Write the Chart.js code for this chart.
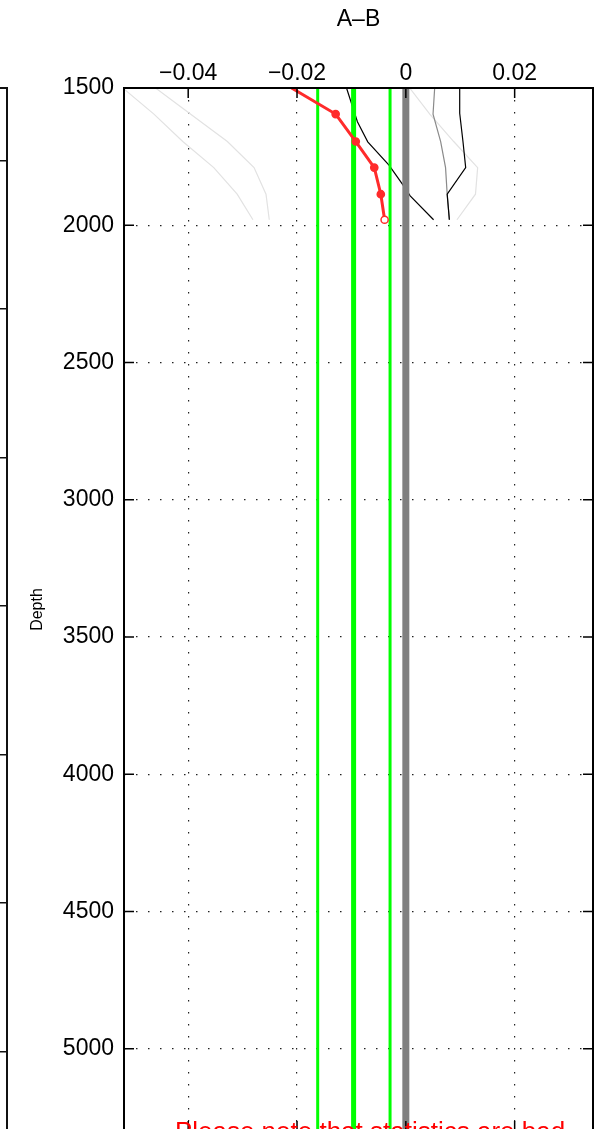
<!DOCTYPE html>
<html>
<head>
<meta charset="utf-8">
<script src="https://cdn.jsdelivr.net/npm/chart.js@4.4.1/dist/chart.umd.min.js"></script>
<style>
  html, body { margin: 0; padding: 0; background: #fff; overflow: hidden; }
  #wrap { position: relative; width: 616px; height: 1129px; overflow: hidden; }
  canvas { position: absolute; top: 0; left: 0; }
</style>
</head>
<body>
<div id="wrap">
  <canvas id="main" width="616" height="1200"></canvas>
  <canvas id="side" width="10" height="1200"></canvas>
</div>
<script>
// ===== A-B difference profile =====

// Axis setup
const depthMin = 1500;
const depthMax = 5300;
const depthTicks = [1500, 2000, 2500, 3000, 3500, 4000, 4500, 5000];
const abMin = -0.0518;
const abMax = 0.0344;
const abTicks = [-0.04, -0.02, 0, 0.02];

// Profile depths
const depthRed = [1500, 1595, 1695, 1790, 1887, 1980];
const abRed = [-0.0210, -0.0129, -0.0092, -0.0058, -0.0046, -0.0039];

const depthBlackL = [1500, 1623, 1696, 1781, 1851, 1893, 1980];
const abBlackL = [-0.0109, -0.0089, -0.0070, -0.0031, -0.0006, 0.0008, 0.0051];

const depthBlackR = [1500, 1592, 1695, 1790, 1887, 1980];
const abBlackR = [0.0099, 0.0099, 0.0105, 0.0110, 0.0076, 0.0080];

const depthGray = [1500, 1595, 1695, 1790, 1887, 1980];
const abGray = [0.0053, 0.0050, 0.0064, 0.0073, 0.0076, 0.0080];

const depthLight = [1500, 1595, 1695, 1790, 1887, 1980];
const abLightA = [-0.0460, -0.0396, -0.0328, -0.0279, -0.0257, -0.0251];
const abLightB = [-0.0520, -0.0463, -0.0410, -0.0353, -0.0310, -0.0281];
const abLightC = [0.0007, 0.0044, 0.0088, 0.0132, 0.0128, 0.0094];

// Mean and spread (vertical lines)
const abMean = -0.0096;
const abSpread = [-0.0162, -0.0029];
const abZero = 0;

// Neighbouring panel (only its edge is visible)
const sideMin = 1755;
const sideMax = 5500;
const sideTicks = [2000, 2500, 3000, 3500, 4000, 4500, 5000];

const noteText = 'Please note that statistics are bad';

Chart.defaults.font.family = '"Liberation Sans", Arial, Helvetica, sans-serif';
Chart.defaults.color = '#000';

function pts(xs, ys) {
  return xs.map((v, i) => ({ x: v, y: ys[i] }));
}
function vline(v) {
  return [{ x: v, y: depthMin }, { x: v, y: depthMax }];
}
function fmt(v) {
  if (v === 0) return '0';
  return (v < 0 ? '\u2212' : '') + Math.abs(v).toFixed(2);
}

const thin = (data, color, order) => ({
  data: data, borderColor: color, borderWidth: 1.2,
  pointRadius: 0, showLine: true, order: order
});

// box + inward ticks, MATLAB style
const frame = {
  id: 'frame',
  afterDatasetsDraw(chart) {
    const { ctx, chartArea: a, scales: { x, y } } = chart;
    ctx.save();
    ctx.strokeStyle = '#000';
    ctx.lineWidth = 1.5;
    ctx.beginPath();
    x.ticks.forEach(t => {
      const px = x.getPixelForValue(t.value);
      ctx.moveTo(px, a.top); ctx.lineTo(px, a.top + 10);
      ctx.moveTo(px, a.bottom); ctx.lineTo(px, a.bottom - 10);
    });
    y.ticks.forEach(t => {
      const py = y.getPixelForValue(t.value);
      ctx.moveTo(a.left, py); ctx.lineTo(a.left + 10, py);
      ctx.moveTo(a.right, py); ctx.lineTo(a.right - 10, py);
    });
    ctx.stroke();
    ctx.lineWidth = 2;
    ctx.strokeRect(a.left, a.top, a.right - a.left, a.bottom - a.top);
    ctx.restore();
  },
  afterDraw(chart) {
    const ctx = chart.ctx;
    ctx.save();
    ctx.fillStyle = '#ff0000';
    ctx.font = '26px "Liberation Sans", Arial, sans-serif';
    ctx.textAlign = 'center';
    ctx.textBaseline = 'alphabetic';
    ctx.fillText(noteText, 370, 1140);
    ctx.restore();
  }
};

new Chart(document.getElementById('main'), {
  type: 'scatter',
  data: {
    datasets: [
      {
        data: pts(abRed, depthRed),
        borderColor: '#ff2b2b', borderWidth: 3, showLine: true,
        pointRadius: depthRed.map((d, i) => i === 0 ? 0 : 3.6),
        pointBackgroundColor: depthRed.map((d, i) => i === depthRed.length - 1 ? '#fff' : '#ff2b2b'),
        pointBorderColor: '#ff2b2b', pointBorderWidth: 1.5,
        order: 0
      },
      { data: vline(abZero), borderColor: '#808080', borderWidth: 7, pointRadius: 0, showLine: true, order: 1 },
      { data: vline(abMean), borderColor: '#00ff00', borderWidth: 5, pointRadius: 0, showLine: true, order: 2 },
      { data: vline(abSpread[0]), borderColor: '#00ff00', borderWidth: 3, pointRadius: 0, showLine: true, order: 2 },
      { data: vline(abSpread[1]), borderColor: '#00ff00', borderWidth: 3, pointRadius: 0, showLine: true, order: 2 },
      thin(pts(abBlackL, depthBlackL), '#000', 3),
      thin(pts(abBlackR, depthBlackR), '#000', 3),
      thin(pts(abGray, depthGray), '#8a8a8a', 4),
      thin(pts(abLightA, depthLight), '#e2e2e2', 5),
      thin(pts(abLightB, depthLight), '#e2e2e2', 5),
      thin(pts(abLightC, depthLight), '#e2e2e2', 5)
    ]
  },
  options: {
    responsive: false,
    animation: false,
    layout: { padding: { left: 0, right: 23, top: 0, bottom: 69 } },
    plugins: { legend: { display: false }, tooltip: { enabled: false } },
    scales: {
      x: {
        type: 'linear', position: 'top', min: abMin, max: abMax,
        afterBuildTicks: s => { s.ticks = abTicks.map(v => ({ value: v })); },
        afterFit: s => { s.height = 88; },
        ticks: { callback: v => fmt(v), font: { size: 23 }, padding: 1, maxRotation: 0 },
        grid: { color: '#222', lineWidth: 1.2, drawTicks: false },
        border: { display: false, dash: [1.5, 10.5] },
        title: { display: true, text: 'A\u2013B', font: { size: 23 }, padding: { top: 6, bottom: 0 } }
      },
      y: {
        type: 'linear', position: 'left', reverse: true, min: depthMin, max: depthMax,
        afterBuildTicks: s => { s.ticks = depthTicks.map(v => ({ value: v })); },
        afterFit: s => { s.width = 124; },
        ticks: { callback: v => String(v), font: { size: 23 }, padding: 10 },
        grid: { color: '#222', lineWidth: 1.2, drawTicks: false },
        border: { display: false, dash: [1.5, 10.5] },
        title: { display: true, text: 'Depth', font: { size: 16 }, padding: { top: 28, bottom: 0 } }
      }
    }
  },
  plugins: [frame]
});

// edge of the neighbouring panel on the left
new Chart(document.getElementById('side'), {
  type: 'scatter',
  data: { datasets: [{ data: [] }] },
  options: {
    responsive: false,
    animation: false,
    layout: { padding: { left: 0, right: 3.5, top: 88, bottom: 0 } },
    plugins: { legend: { display: false }, tooltip: { enabled: false } },
    scales: {
      x: {
        type: 'linear', position: 'top', min: 0, max: 1,
        ticks: { display: false },
        grid: { display: false, drawTicks: false },
        border: { display: true, color: '#111', width: 2 }
      },
      y: {
        type: 'linear', position: 'right', reverse: true, min: sideMin, max: sideMax,
        afterBuildTicks: s => { s.ticks = sideTicks.map(v => ({ value: v })); },
        ticks: { display: false },
        grid: { color: '#111', lineWidth: 1.5, drawTicks: false },
        border: { display: true, color: '#111', width: 2 }
      }
    }
  }
});
</script>
</body>
</html>
